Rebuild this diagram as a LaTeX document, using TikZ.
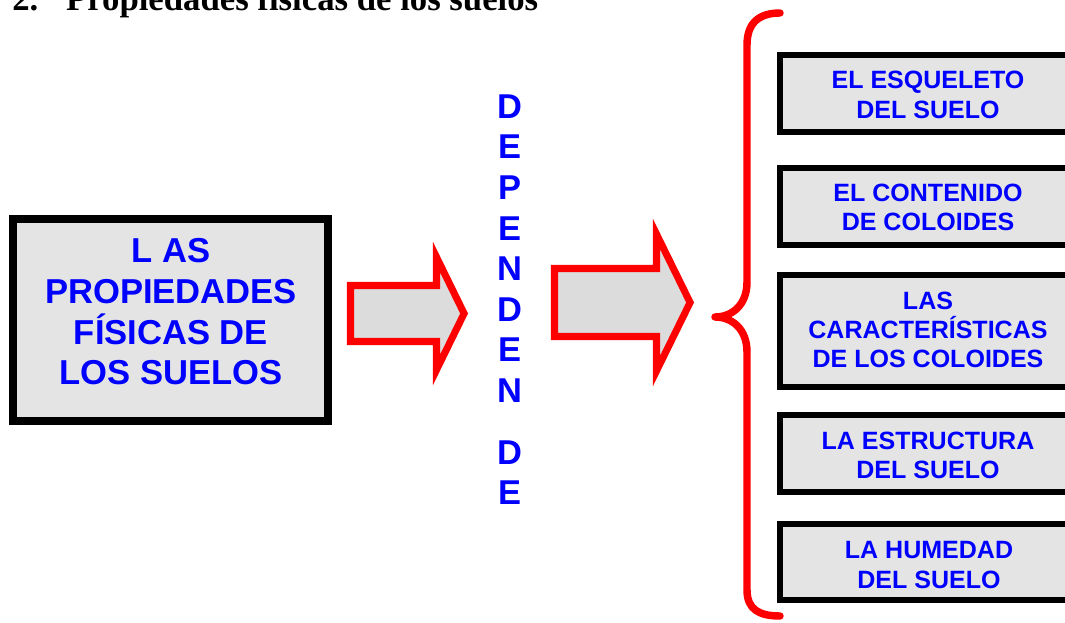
\documentclass[tikz,border=0pt]{standalone}
\usepackage{fontspec}
\setmainfont{Liberation Serif}
\setsansfont{Liberation Sans}

\definecolor{textblue}{RGB}{0,0,255}
\definecolor{granite}{RGB}{228,228,228}
\definecolor{shaftgray}{RGB}{220,220,220}

\begin{document}
\begin{tikzpicture}
[x=0.025cm, y=-0.025cm,
soilbox/.style={draw=black, fill=granite, line width=4.3pt},
mainbox/.style={soilbox, line width=5.5pt},
blockarrow/.style={draw=red, fill=shaftgray, line width=5pt, line join=miter},
curly/.style={draw=red, line width=5.3pt, line cap=round, line join=round},
itemtext/.style={text=textblue, align=center, font=\sffamily\bfseries\fontsize{17.8}{20.8}\selectfont},
maintext/.style={itemtext, font=\sffamily\bfseries\fontsize{24.6}{28.9}\selectfont},
verbtext/.style={itemtext, font=\sffamily\bfseries\fontsize{24.5}{28.9}\selectfont}]
  \path[fill=white, use as bounding box] (0,0) rectangle (1065,623);
  \clip (0,0) rectangle (1065,623);

  % heading, only its lower half shows
  \node[anchor=base west, inner sep=0pt, font=\bfseries\fontsize{24.7}{28}\selectfont] (title) at (12,10.5) {2.\hspace{0.8em}Propiedades físicas de los suelos};

  % the big box on the left
  \draw[mainbox] (12.8,218.8) rectangle (328.2,421.2);
  \node[maintext] (props) at (171,312) {L AS\\PROPIEDADES\\FÍSICAS DE\\LOS SUELOS};

  % two fat arrows
  \draw[blockarrow] (350.5,285.5) -- (436.5,285.5) -- (436.5,257.1) -- (464.1,313.5) -- (436.5,369.9) -- (436.5,341.5) -- (350.5,341.5) -- cycle;
  \draw[blockarrow] (554.5,268.5) -- (656.5,268.5) -- (656.5,234.1) -- (690.1,302.5) -- (656.5,370.9) -- (656.5,336.5) -- (554.5,336.5) -- cycle;

  % the verb, written downwards
  \node[verbtext] (dep) at (509.5,248.5) {D\\E\\P\\E\\N\\D\\E\\N};
  \node[verbtext] (de) at (509.5,472.5) {D\\E};

  % curly bracket
  \draw[curly] (780,13) .. controls (760,13) and (747,22) .. (747,45) -- (747,282)
    .. controls (747,305) and (732,317) .. (715,317)
    .. controls (732,317) and (747,329) .. (747,352) -- (747,590)
    .. controls (747,610) and (760,616) .. (780,616);

  % the five factors
  \draw[soilbox] (780,55) rectangle (1080,132);
  \node[itemtext] (esqueleto) at (928,95) {EL ESQUELETO\\DEL SUELO};
  \draw[soilbox] (780,168) rectangle (1080,245);
  \node[itemtext] (contenido) at (928,207.5) {EL CONTENIDO\\DE COLOIDES};
  \draw[soilbox] (780,275) rectangle (1080,387);
  \node[itemtext] (caract) at (928,330) {LAS\\CARACTERÍSTICAS\\DE LOS COLOIDES};
  \draw[soilbox] (780,415) rectangle (1080,492);
  \node[itemtext] (estructura) at (928,455.3) {LA ESTRUCTURA\\DEL SUELO};
  \draw[soilbox] (780,524) rectangle (1080,600);
  \node[itemtext] (humedad) at (929,565) {LA HUMEDAD\\DEL SUELO};
\end{tikzpicture}
\end{document}
